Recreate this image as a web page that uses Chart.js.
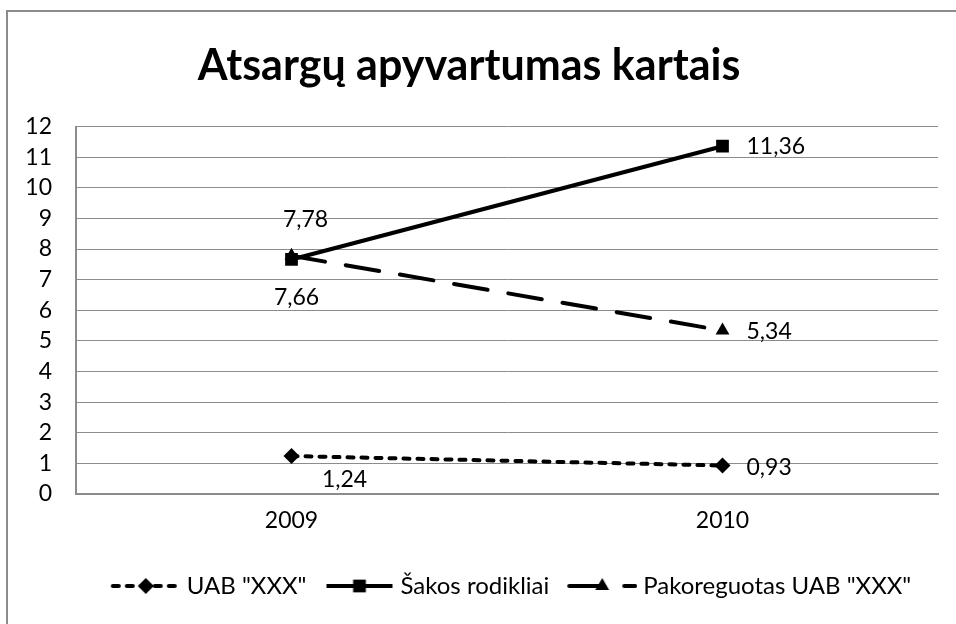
<!DOCTYPE html>
<html>
<head>
<meta charset="utf-8">
<script src="https://cdn.jsdelivr.net/npm/chart.js@4/dist/chart.umd.min.js"></script>
<style>
  html, body { margin: 0; padding: 0; background: #fff; overflow: hidden; }
  #frame { position: absolute; left: 6px; top: 10px; width: 1200px; height: 1200px;
           border-left: 2px solid #8c8c8c; border-top: 2px solid #8c8c8c; }
  #wrap { position: absolute; left: 0; top: 0; width: 956px; height: 624px; }
</style>
</head>
<body>
<div id="frame"></div>
<div id="wrap"><canvas id="myChart"></canvas></div>
<script>
// data
var years = ['2009', '2010'];
var seriesNames = ['UAB "XXX"', 'Šakos rodikliai', 'Pakoreguotas UAB "XXX"'];
var uabValues = [1.24, 0.93];
var sakosValues = [7.66, 11.36];
var pakoregValues = [7.78, 5.34];
var yMin = 0, yMax = 12, yStep = 1;

// where each value label sits relative to its point (dx, dy in px)
var labelPlacement = [
  [{dx: 53, dy: 24, align: 'center'}, {dx: 24, dy: 2, align: 'left'}],
  [{dx: 5, dy: 38, align: 'center'}, {dx: 24, dy: 0, align: 'left'}],
  [{dx: 14, dy: -36, align: 'center'}, {dx: 24, dy: 1, align: 'left'}]
];

var FONT = 'Lato';
var GRID = '#8c8c8c';

function fmt(v) {
  return v.toFixed(2).replace('.', ',');
}

function drawMarker(g, style, r, x, y) {
  g.beginPath();
  if (style === 'rectRot') {
    g.moveTo(x, y - r); g.lineTo(x + r, y); g.lineTo(x, y + r); g.lineTo(x - r, y);
  } else if (style === 'rect') {
    var s = r * Math.SQRT2 / 2;
    g.rect(x - s, y - s, 2 * s, 2 * s);
  } else {
    var w = r * Math.sin(Math.PI / 3);
    g.moveTo(x, y - r); g.lineTo(x + w, y + r / 2); g.lineTo(x - w, y + r / 2);
  }
  g.closePath();
  g.fill();
}

// legend sample: line + marker, drawn to a small canvas
function legendSample(ds) {
  var c = document.createElement('canvas');
  c.width = 84; c.height = 22;
  var g = c.getContext('2d');
  g.strokeStyle = '#000';
  g.fillStyle = '#000';
  g.lineWidth = ds.borderWidth;
  g.lineCap = ds.borderCapStyle || 'butt';
  g.setLineDash(ds.borderDash || []);
  g.beginPath();
  g.moveTo(16, 11); g.lineTo(82, 11);
  g.stroke();
  g.setLineDash([]);
  drawMarker(g, ds.pointStyle, ds.pointRadius, 49, 11);
  return c;
}

var valueLabels = {
  id: 'valueLabels',
  afterDatasetsDraw: function (chart) {
    var g = chart.ctx;
    g.save();
    g.font = '23px ' + FONT;
    g.fillStyle = '#000';
    g.textBaseline = 'middle';
    chart.data.datasets.forEach(function (ds, i) {
      var meta = chart.getDatasetMeta(i);
      meta.data.forEach(function (pt, j) {
        var p = labelPlacement[i][j];
        g.textAlign = p.align;
        g.fillText(fmt(ds.data[j]), pt.x + p.dx, pt.y + p.dy);
      });
    });
    g.restore();
  }
};

var ctx = document.getElementById('myChart');
var myChart = new Chart(ctx, {
  type: 'line',
  data: {
    labels: years,
    datasets: [
      {
        label: seriesNames[0],
        data: uabValues,
        borderColor: '#000',
        backgroundColor: '#000',
        borderWidth: 4,
        borderDash: [6, 8],
        borderCapStyle: 'round',
        pointStyle: 'rectRot',
        pointRadius: 8,
        pointBorderWidth: 0,
        tension: 0
      },
      {
        label: seriesNames[1],
        data: sakosValues,
        borderColor: '#000',
        backgroundColor: '#000',
        borderWidth: 4,
        pointStyle: 'rect',
        pointRadius: 9,
        pointBorderWidth: 0,
        tension: 0
      },
      {
        label: seriesNames[2],
        data: pakoregValues,
        borderColor: '#000',
        backgroundColor: '#000',
        borderWidth: 4,
        borderDash: [34, 21],
        borderCapStyle: 'round',
        pointStyle: 'triangle',
        pointRadius: 8,
        pointBorderWidth: 0,
        tension: 0
      }
    ]
  },
  options: {
    responsive: true,
    maintainAspectRatio: false,
    animation: false,
    layout: { padding: { left: 0, right: 18, top: 0, bottom: 16 } },
    plugins: {
      title: {
        display: true,
        text: 'Atsargų apyvartumas kartais',
        color: '#000',
        font: { family: FONT, size: 43, weight: 'bold' },
        padding: { top: 40, bottom: 35 }
      },
      legend: {
        position: 'bottom',
        fullSize: false,
        labels: {
          usePointStyle: true,
          pointStyleWidth: 72,
          padding: 10,
          color: '#000',
          font: { family: FONT, size: 24 },
          generateLabels: function (chart) {
            return chart.data.datasets.map(function (ds, i) {
              return {
                text: ds.label,
                pointStyle: legendSample(ds),
                fillStyle: '#000',
                strokeStyle: '#000',
                lineWidth: 0,
                fontColor: '#000',
                datasetIndex: i
              };
            });
          }
        }
      },
      tooltip: { enabled: false }
    },
    scales: {
      x: {
        offset: true,
        grid: { display: false, drawTicks: false },
        border: { display: true, color: GRID, width: 2 },
        ticks: { color: '#000', padding: 13, font: { family: FONT, size: 23 } },
        afterFit: function (scale) { scale.height = 70; }
      },
      y: {
        min: yMin,
        max: yMax,
        grid: { color: GRID, lineWidth: 1, drawTicks: false },
        border: { display: true, color: GRID, width: 2 },
        ticks: { stepSize: yStep, color: '#000', padding: 24, font: { family: FONT, size: 23 } },
        afterFit: function (scale) { scale.width = 76; }
      }
    }
  },
  plugins: [valueLabels]
});
</script>
</body>
</html>
